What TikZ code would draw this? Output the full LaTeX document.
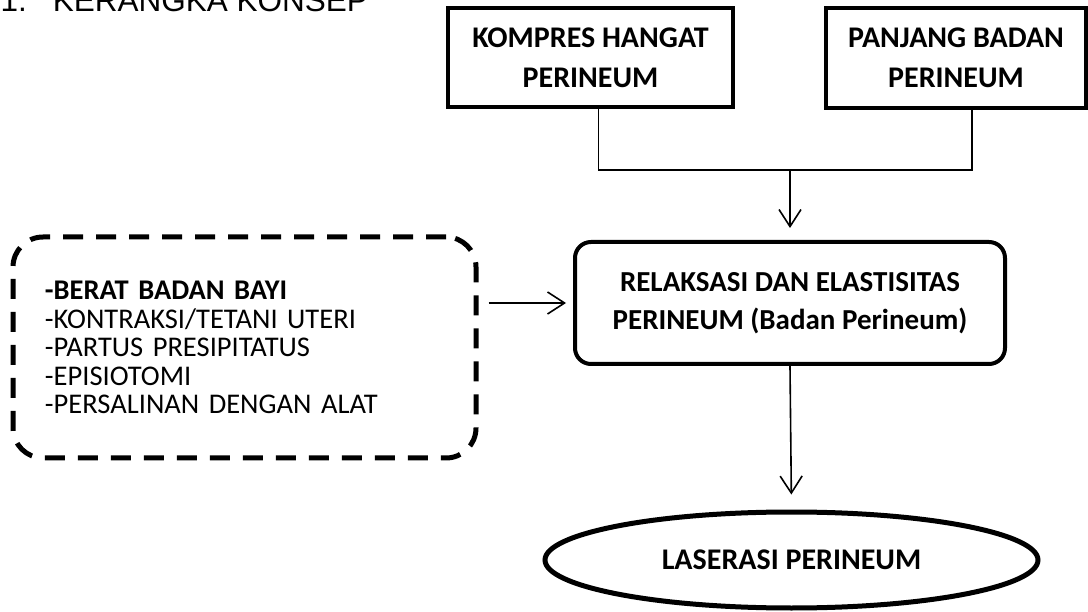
\documentclass[tikz,border=0pt]{standalone}
\usepackage{fontspec}
\setmainfont{Carlito}
\newfontfamily\judulfont{Liberation Sans}
\usetikzlibrary{arrows.meta,shapes.geometric}
\tikzset{
  kotak/.style={draw, line width=4.5pt, minimum width=285pt, minimum height=99pt, align=center, font=\fontsize{30}{40}\selectfont\bfseries},
  proses/.style={draw, line width=4pt, rounded corners=16pt, minimum width=430pt, minimum height=122pt, align=center, font=\fontsize{29}{38}\selectfont\bfseries},
  faktor/.style={draw, line width=5pt, dash pattern=on 20pt off 13pt, rounded corners=30pt, text width=399pt, inner xsep=32pt, minimum height=221pt, align=left, font=\fontsize{28.5}{28.5}\selectfont},
  hasil/.style={draw, ellipse, line width=5pt, minimum width=493pt, minimum height=96pt, font=\fontsize{30}{30}\selectfont\bfseries},
  garis/.style={line width=1.6pt},
  panah/.style={line width=1.6pt, -{Straight Barb[length=17pt,width=22pt,line width=1.6pt]}}
}
\begin{document}
\begin{tikzpicture}[x=1pt,y=-1pt]
  \useasboundingbox (0,0) rectangle (1088,612);
  \node[anchor=base west, font=\judulfont\fontsize{31.5}{36}\selectfont] (judul) at (-3,12) {1.\hspace{26pt}KERANGKA KONSEP};
  \node[kotak] (kompres) at (590.5,57.5) {KOMPRES HANGAT\\PERINEUM};
  \node[kotak, minimum width=260pt, minimum height=100pt] (panjang) at (956,58) {PANJANG BADAN\\PERINEUM};
  \node[proses] (relaksasi) at (790,303) {RELAKSASI DAN ELASTISITAS\\PERINEUM (Badan Perineum)};
  \node[faktor] (penyebab) at (244.5,347.5) {\textbf{-BERAT BADAN BAYI}\\-KONTRAKSI/TETANI UTERI\\-PARTUS PRESIPITATUS\\-EPISIOTOMI\\-PERSALINAN DENGAN ALAT};
  \node[hasil] (laserasi) at (791.5,560) {LASERASI PERINEUM};
  \coordinate (cabang) at (790,170);
  \draw[garis] ([xshift=8pt]kompres.south) |- (cabang) -| ([xshift=16pt]panjang.south);
  \draw[panah, shorten >=12pt] (cabang) -- (relaksasi.north);
  \draw[panah, shorten <=10pt, shorten >=7pt] (penyebab.east |- relaksasi.west) -- (relaksasi.west);
  \draw[panah, shorten >=15pt] (relaksasi.south) -- (laserasi.north);
\end{tikzpicture}
\end{document}
